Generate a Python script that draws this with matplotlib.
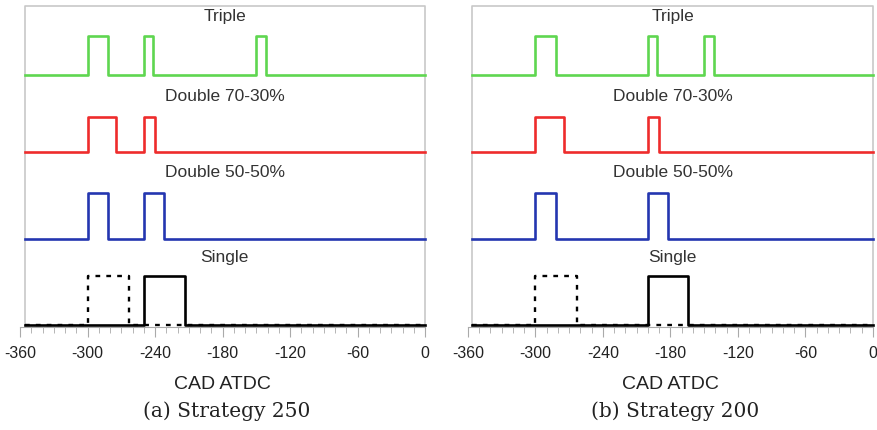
import matplotlib
matplotlib.use("Agg")
import matplotlib.pyplot as plt
from matplotlib.ticker import MultipleLocator

# injection pulses (start, end) in CAD ATDC
triple_250 = [(-300, -282), (-250, -242), (-150, -141)]
d7030_250 = [(-300, -275), (-250, -240)]
d5050_250 = [(-300, -282), (-250, -232)]
single_250 = [(-250, -213)]
single_ref_250 = [(-300, -263)]

triple_200 = [(-300, -282), (-200, -192), (-150, -141)]
d7030_200 = [(-300, -275), (-200, -190)]
d5050_200 = [(-300, -282), (-200, -182)]
single_200 = [(-200, -164)]
single_ref_200 = [(-300, -263)]

labels = ["Triple", "Double 70-30%", "Double 50-50%", "Single"]
captions = ["(a) Strategy 250", "(b) Strategy 200"]
xticks = [-360, -300, -240, -180, -120, -60, 0]

colors = ["#5fd650", "#ee2c2c", "#2436b0", "black"]
bases = [250, 173, 86, 0]
heights = [39, 35, 46, 49]
label_y = [309, 229, 153, 68]
x_start = -356


def steps(pulses, base, h):
    xs = [x_start]
    ys = [base]
    for a, b in pulses:
        xs += [a, a, b, b]
        ys += [base, base + h, base + h, base]
    xs.append(0)
    ys.append(base)
    return xs, ys


fig = plt.figure(figsize=(8.78, 4.31), dpi=100)
panels = [
    (0.0228, [triple_250, d7030_250, d5050_250, single_250], single_ref_250),
    (0.5330, [triple_200, d7030_200, d5050_200, single_200], single_ref_200),
]
grey = "#c8c8c8"

for k, (left, series, ref) in enumerate(panels):
    ax = fig.add_axes([left, 0.239, 0.4613, 0.7448])
    ax.set_xlim(-360, 0)
    ax.set_ylim(-2, 319)
    for s in ["top", "left", "right"]:
        ax.spines[s].set_visible(False)
    ax.spines["bottom"].set_color("#aaaaaa")
    # frame
    ax.plot([x_start, x_start, 0, 0], [0, 319, 319, 0], color=grey, lw=1.2, clip_on=False)

    xs, ys = steps(ref, bases[3], heights[3])
    ax.plot(xs, ys, color="black", lw=1.7, ls=(0, (2.0, 2.6)), clip_on=False)
    for i in range(4):
        xs, ys = steps(series[i], bases[i], heights[i])
        ax.plot(xs, ys, color=colors[i], lw=1.9, clip_on=False)
        ax.text(-178, label_y[i], labels[i], ha="center", va="center",
                fontsize=12.5, family="Liberation Sans", color="#333333")

    ax.set_yticks([])
    ax.set_xticks(xticks)
    ax.set_xticklabels([str(t) for t in xticks], family="Liberation Sans", fontsize=11.5)
    ax.xaxis.set_minor_locator(MultipleLocator(10))
    ax.tick_params(axis="x", which="major", length=7, color="#aaaaaa", pad=6, labelcolor="#222222")
    ax.tick_params(axis="x", which="minor", length=4, color="#aaaaaa")
    ax.set_xlabel("CAD ATDC", family="Liberation Sans", fontsize=14, labelpad=11, color="#222222")

    fig.text(left + 0.4613 / 2 + 0.005, 0.047, captions[k], ha="center", va="center",
             family="DejaVu Serif", fontsize=14.5, color="#222222")

fig.savefig("out.png", dpi=100)
